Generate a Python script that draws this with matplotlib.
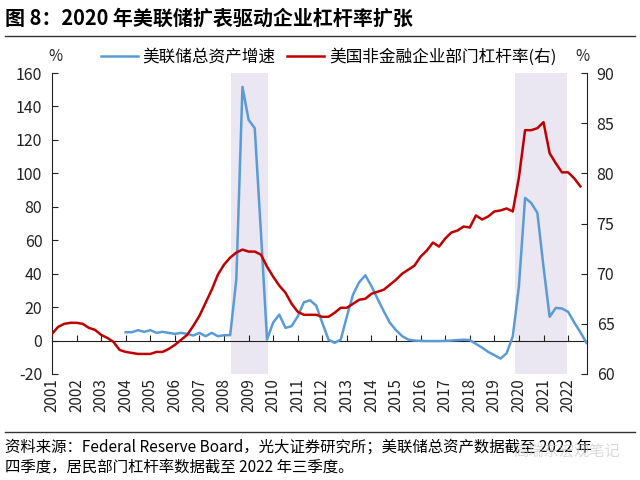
import numpy as np
import matplotlib
matplotlib.use("Agg")
import matplotlib.pyplot as plt
import matplotlib.transforms as mtransforms
from matplotlib.lines import Line2D

plt.rcParams['font.family'] = ['Noto Sans CJK SC', 'DejaVu Sans']
plt.rcParams['axes.unicode_minus'] = False

# ---------- Data (quarterly) ----------
# Fed total assets growth, %, from 2004Q1 to 2022Q4
fed_start = 2004
fed_growth = [
    5.0, 5.0, 6.2, 5.2,        # 2004
    6.2, 4.6, 5.2, 4.6,        # 2005
    4.0, 4.6, 4.0, 3.0,        # 2006
    4.6, 2.6, 4.6, 2.6,        # 2007
    3.2, 3.2, 36.5, 151.7,     # 2008
    132.0, 127.0, 65.0, 0.6,   # 2009
    10.8, 15.5, 7.6, 8.6,      # 2010
    14.5, 22.9, 24.1, 20.9,    # 2011
    10.6, 0.6, -1.4, 0.6,      # 2012
    14.5, 27.5, 34.9, 39.0,    # 2013
    32.5, 24.9, 17.5, 10.6,    # 2014
    6.2, 2.6, 0.6, 0.0,        # 2015
    -0.2, -0.3, -0.3, -0.3,    # 2016
    -0.2, 0.0, 0.3, 0.5,       # 2017
    0.3, -2.0, -4.2, -6.8,     # 2018
    -8.7, -10.8, -7.6, 2.5,    # 2019
    32.5, 85.3, 82.3, 76.4,    # 2020
    44.0, 14.2, 19.5, 19.2,    # 2021
    17.2, 10.8, 5.0, -1.4,     # 2022
]

# US non-financial corporate leverage, %, from 2001Q1 to 2022Q3
lev_start = 2001
corp_leverage = [
    64.0, 64.7, 65.0, 65.1,    # 2001
    65.1, 65.0, 64.6, 64.4,    # 2002
    63.9, 63.6, 63.2, 62.4,    # 2003
    62.2, 62.1, 62.0, 62.0,    # 2004
    62.0, 62.2, 62.2, 62.5,    # 2005
    62.9, 63.4, 63.9, 64.8,    # 2006
    65.8, 67.1, 68.4, 69.9,    # 2007
    70.9, 71.6, 72.1, 72.4,    # 2008
    72.2, 72.2, 71.9, 70.7,    # 2009
    69.7, 68.8, 68.1, 67.0,    # 2010
    66.2, 65.9, 65.9, 65.9,    # 2011
    65.7, 65.7, 66.1, 66.6,    # 2012
    66.6, 67.0, 67.4, 67.5,    # 2013
    68.0, 68.2, 68.4, 68.9,    # 2014
    69.4, 70.0, 70.4, 70.8,    # 2015
    71.7, 72.3, 73.1, 72.7,    # 2016
    73.5, 74.1, 74.3, 74.7,    # 2017
    74.6, 75.8, 75.4, 75.7,    # 2018
    76.2, 76.3, 76.5, 76.2,    # 2019
    79.6, 84.3, 84.3, 84.5,    # 2020
    85.1, 82.0, 81.0, 80.1,    # 2021
    80.1, 79.5, 78.7,          # 2022
]

years = list(range(2001, 2023))
shade_periods = [(2008.27, 2009.8), (2019.82, 2021.97)]

title = "图 8：2020 年美联储扩表驱动企业杠杆率扩张"
label_fed = "美联储总资产增速"
label_lev = "美国非金融企业部门杠杆率(右)"
note1 = "资料来源：Federal Reserve Board，光大证券研究所；美联储总资产数据截至 2022 年"
note2 = "四季度，居民部门杠杆率数据截至 2022 年三季度。"

fed_x = fed_start + np.arange(len(fed_growth)) / 4
lev_x = lev_start + np.arange(len(corp_leverage)) / 4

blue = '#5B9BD5'
red = '#C00000'

# ---------- Figure ----------
fig = plt.figure(figsize=(6.4, 4.8), dpi=100)
ax = fig.add_axes([52 / 640, 1 - 374 / 480, 535 / 640, 301 / 480])
ax2 = ax.twinx()

for a, b in shade_periods:
    ax.axvspan(a, b, color='#EAE6F2', lw=0, zorder=0)

ax.plot(fed_x, fed_growth, color=blue, lw=1.8, zorder=3)
ax2.plot(lev_x, corp_leverage, color=red, lw=1.8, zorder=3)

ax.set_xlim(2001, 2022.77)
ax.set_ylim(-20, 160)
ax.set_yticks(range(-20, 161, 20))
ax2.set_ylim(60, 90)
ax2.set_yticks(range(60, 91, 5))

ax.spines['top'].set_visible(False)
ax.spines['right'].set_visible(False)
ax.spines['bottom'].set_position(('data', 0))
ax2.spines['top'].set_visible(False)
ax2.spines['bottom'].set_visible(False)
ax2.spines['left'].set_visible(False)
for s in ['left', 'bottom']:
    ax.spines[s].set_color('#222222')
ax2.spines['right'].set_color('#222222')

ax.set_xticks(years)
ax.tick_params(axis='x', direction='in', length=4, labelbottom=False, color='#222222')
ax.tick_params(axis='y', direction='in', length=4, labelsize=11.5, pad=7, color='#222222', labelcolor='#222222')
ax2.tick_params(axis='y', direction='in', length=4, labelsize=11.5, pad=7, color='#222222', labelcolor='#222222')

trans = mtransforms.blended_transform_factory(ax.transData, ax.transAxes)
for y in years:
    ax.text(y, -0.013, str(y), transform=trans, rotation=90, ha='center', va='top',
            fontsize=11, color='#222222')

ax.text(0.006, 1.025, '%', transform=ax.transAxes, ha='center', va='bottom', fontsize=11, color='#222222')
ax.text(0.992, 1.025, '%', transform=ax.transAxes, ha='center', va='bottom', fontsize=11, color='#222222')

handles = [Line2D([], [], color=blue, lw=1.8), Line2D([], [], color=red, lw=1.8)]
ax.legend(handles, [label_fed, label_lev], loc='center', bbox_to_anchor=(0.517, 1.053),
          ncol=2, frameon=False, fontsize=12, handlelength=2.2, handletextpad=0.3,
          columnspacing=0.7, borderaxespad=0)

# ---------- Title and notes ----------
fig.text(5 / 640, 1 - 18 / 480, title, ha='left', va='center', fontsize=14.4, fontweight='bold')
fig.add_artist(Line2D([5 / 640, 635 / 640], [1 - 36 / 480, 1 - 36 / 480], color='#333333', lw=1))
fig.add_artist(Line2D([5 / 640, 635 / 640], [1 - 432 / 480, 1 - 432 / 480], color='#333333', lw=1))
fig.text(5 / 640, 1 - 447 / 480, note1, ha='left', va='center', fontsize=11.1)
fig.text(5 / 640, 1 - 467 / 480, note2, ha='left', va='center', fontsize=11.1)
fig.text(620 / 640, 1 - 451 / 480, "高瑞东宏观笔记", ha='right', va='center', fontsize=11,
         color='#C8C8C8', alpha=0.7)

fig.savefig('out.png', dpi=100)
